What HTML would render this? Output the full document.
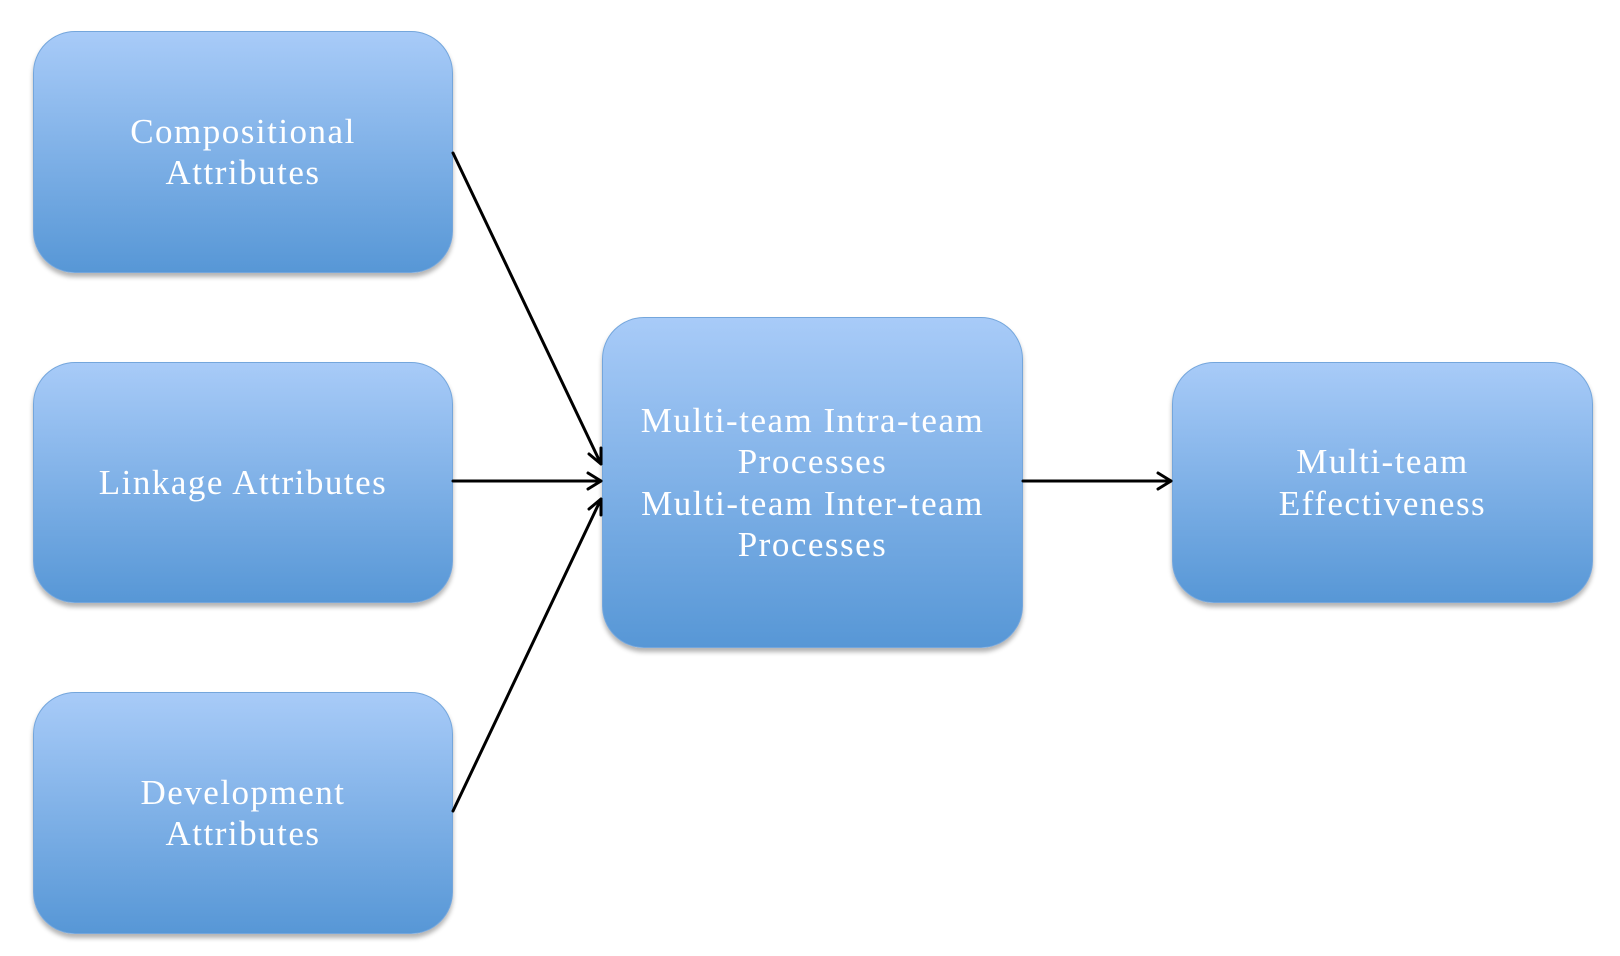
<!DOCTYPE html>
<html><head><meta charset="utf-8"><style>
html,body{margin:0;padding:0;background:#fff;width:1620px;height:956px;overflow:hidden;position:relative}
.b{position:absolute;box-sizing:border-box;border-radius:42px;border:1.5px solid #74a6dc;
background:linear-gradient(#a8cbf8,#5797d6);box-shadow:0 4px 5px rgba(0,0,0,0.3);
display:flex;align-items:center;justify-content:center;text-align:center;color:#fff;
font-family:"Liberation Serif",serif;font-size:35px;line-height:41.5px;letter-spacing:1.5px}
svg{position:absolute;left:0;top:0}
</style></head><body>
<div class="b" style="left:33px;top:31px;width:420px;height:242px">Compositional<br>Attributes</div>
<div class="b" style="left:33px;top:362px;width:420px;height:241px">Linkage Attributes</div>
<div class="b" style="left:33px;top:692px;width:420px;height:242px">Development<br>Attributes</div>
<div class="b" style="left:602px;top:317px;width:421px;height:331px">Multi-team Intra-team<br>Processes<br>Multi-team Inter-team<br>Processes</div>
<div class="b" style="left:1172px;top:362px;width:421px;height:241px">Multi-team<br>Effectiveness</div>
<svg width="1620" height="956">
<g stroke="#000" stroke-width="3" fill="none" stroke-linecap="round" stroke-linejoin="round">
<line x1="453" y1="153" x2="601" y2="464"/>
<line x1="453" y1="481" x2="601" y2="481"/>
<line x1="453" y1="811" x2="601" y2="499"/>
<line x1="1023" y1="481" x2="1171" y2="481"/>
<polyline points="601,448 601,464 589,454"/>
<polyline points="588,473 601,481 588,489"/>
<polyline points="601,515 601,499 589,509"/>
<polyline points="1158,473 1171,481 1158,489"/>
</g>
</svg>
</body></html>
